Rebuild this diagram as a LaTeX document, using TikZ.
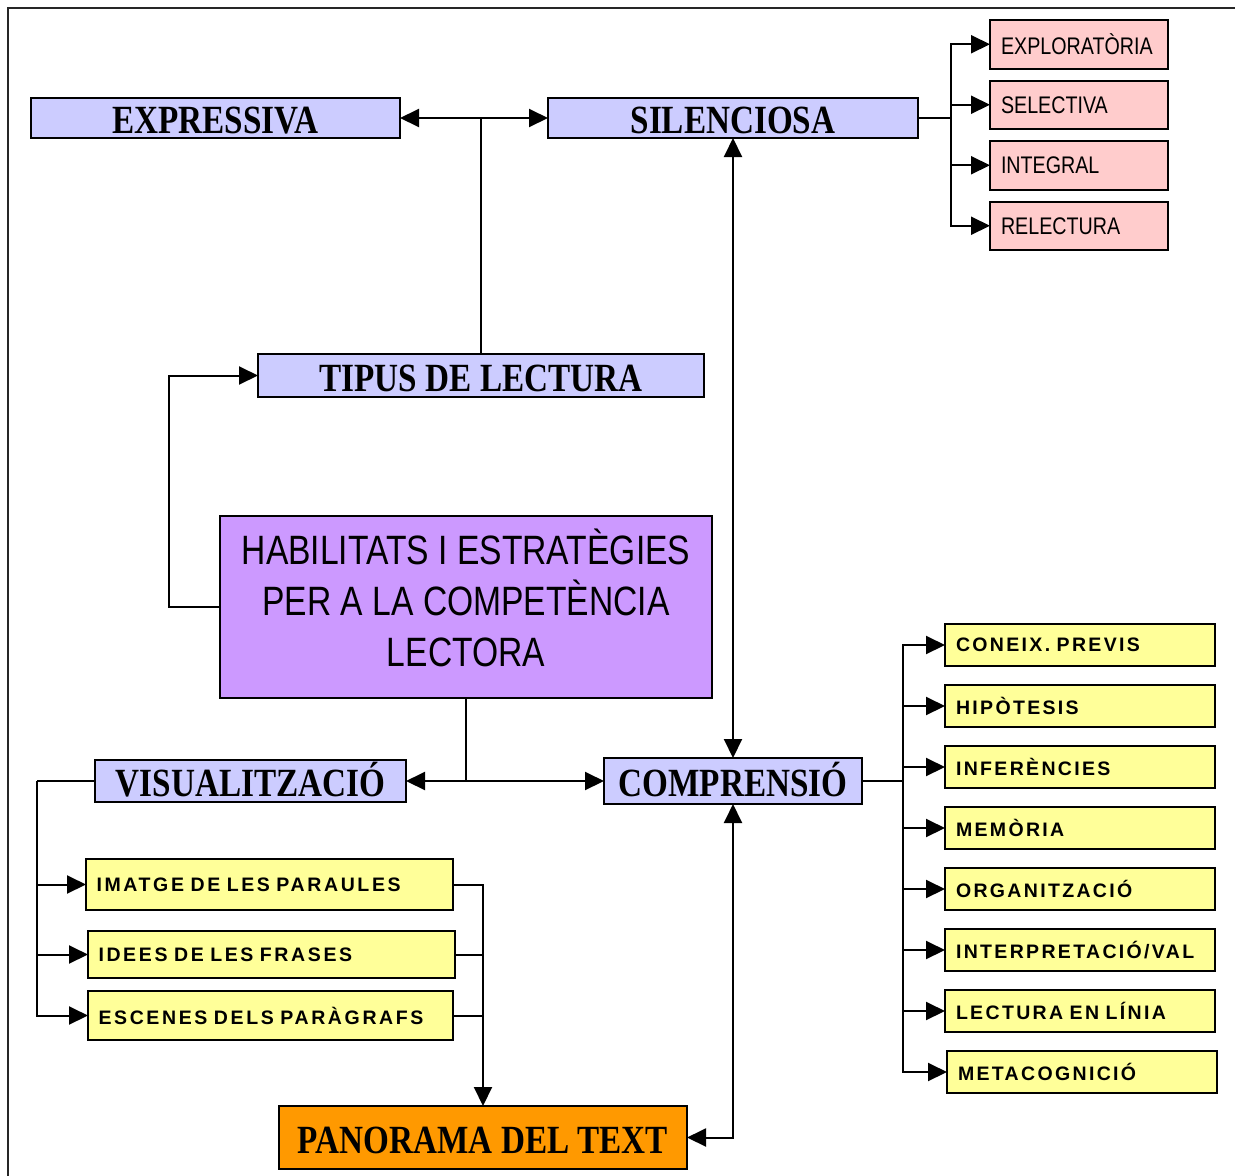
\documentclass[tikz,border=0pt]{standalone}
\usepackage{fontspec}
\usepackage{xcolor}
\usetikzlibrary{arrows.meta,positioning}
\newfontfamily\headfont[FakeStretch=0.83]{Liberation Serif}
\newfontfamily\narrowfont[FakeStretch=0.82]{Liberation Sans}
\newfontfamily\spacedfont[LetterSpace=12]{Liberation Sans}
\definecolor{bluefill}{HTML}{CCCCFF}
\definecolor{redfill}{HTML}{FFCCCC}
\definecolor{yelfill}{HTML}{FFFF99}
\definecolor{violfill}{HTML}{CC99FF}
\definecolor{orangefill}{HTML}{FF9900}

\begin{document}
\begin{tikzpicture}[x=1pt,y=-1pt,
  line width=2pt,
  node distance=12pt,
  head/.style={draw,fill=bluefill,anchor=north west,inner sep=0pt,outer sep=0pt,text height=31pt,text depth=0pt,font=\headfont\bfseries\fontsize{40}{44}\selectfont},
  redbox/.style={draw,fill=redfill,anchor=north west,inner xsep=11pt,inner ysep=0pt,outer sep=0pt,minimum height=48.5pt,text width=156pt,align=left,font=\narrowfont\fontsize{24}{26}\selectfont},
  yelbox/.style={draw,fill=yelfill,anchor=north west,inner xsep=11pt,inner ysep=0pt,outer sep=0pt,minimum height=42pt,text width=248pt,align=left,font=\spacedfont\bfseries\fontsize{19.5}{22}\selectfont},
  wideyel/.style={yelbox,inner xsep=10.5pt,font=\spacedfont\bfseries\fontsize{19.5}{22}\selectfont\addfontfeature{LetterSpace=13.5}},
  >={Triangle[length=19pt,width=18pt]}]
  \useasboundingbox (0,0) rectangle (1235,1176);
  \draw[line width=1.5pt,black!85] (8,1176) -- (8,8) -- (1235,8);
  % main boxes
  \node[head,minimum width=369pt,minimum height=40pt] (expr) at (31,98) {EXPRESSIVA};
  \node[head,minimum width=370pt,minimum height=40pt] (sil) at (548,98) {SILENCIOSA};
  \node[head,minimum width=446pt,minimum height=43pt] (tipus) at (258,354) {TIPUS DE LECTURA};
  \node[draw,fill=violfill,anchor=north west,inner sep=0pt,outer sep=0pt,minimum width=492pt,minimum height=182pt,
        label={[align=center,yshift=9pt,font=\narrowfont\fontsize{41}{51}\selectfont]center:HABILITATS I ESTRATÈGIES\\PER A LA COMPETÈNCIA\\LECTORA}]
        (hab) at (220,516) {};
  \node[head,minimum width=311pt,minimum height=42pt] (vis) at (95,760) {VISUALITZACIÓ};
  \node[head,minimum width=258pt,minimum height=46pt] (comp) at (604,758) {COMPRENSIÓ};
  \node[head,fill=orangefill,minimum width=408pt,minimum height=63pt] (pan) at (279,1106) {PANORAMA DEL TEXT};
  % silent reading kinds
  \node[redbox] (r1) at (990,20) {EXPLORATÒRIA};
  \node[redbox,below=of r1] (r2) {SELECTIVA};
  \node[redbox,below=of r2] (r3) {INTEGRAL};
  \node[redbox,below=of r3] (r4) {RELECTURA};
  % comprehension skills
  \node[yelbox] (c1) at (945,624) {CONEIX. PREVIS};
  \node[yelbox,below=19pt of c1] (c2) {HIPÒTESIS};
  \node[yelbox,below=19pt of c2] (c3) {INFERÈNCIES};
  \node[yelbox,below=19pt of c3] (c4) {MEMÒRIA};
  \node[yelbox,below=19pt of c4] (c5) {ORGANITZACIÓ};
  \node[yelbox,below=19pt of c5] (c6) {INTERPRETACIÓ/VAL};
  \node[yelbox,below=19pt of c6] (c7) {LECTURA EN LÍNIA};
  \node[yelbox,below=19pt of c7,xshift=2pt] (c8) {METACOGNICIÓ};
  % visualisation
  \node[wideyel,text width=346pt,minimum height=51pt] (img) at (86,859) {IMATGE DE LES PARAULES};
  \node[wideyel,text width=346pt,minimum height=47pt] (idees) at (88,931) {IDEES DE LES FRASES};
  \node[wideyel,text width=344pt,minimum height=49pt] (esc) at (88,991) {ESCENES DELS PARÀGRAFS};
  % connectors
  \draw[<->] (expr.east) -- (sil.west);
  \draw (tipus.north) -- (tipus.north |- expr.east);
  \draw[->] (hab.west) -- ++(-51,0) |- (tipus.west);
  \draw[<->] (sil.south) -- (comp.north);
  \draw (hab.south) -- (hab.south |- comp.west) coordinate (hj);
  \draw[->] (hj) -- (vis.east);
  \draw[->] (hj) -- (comp.west);
  \draw[<->] (comp.south) |- (pan.east);
  \draw (sil.east) -- ++(33,0) coordinate (sr);
  \draw[->] (sr) |- (r1.west); \draw[->] (sr) |- (r2.west);
  \draw[->] (sr) |- (r3.west); \draw[->] (sr) |- (r4.west);
  \draw (comp.east) -- ++(41,0) coordinate (cr);
  \draw[->] (cr) |- (c1.west); \draw[->] (cr) |- (c2.west);
  \draw[->] (cr) |- (c3.west); \draw[->] (cr) |- (c4.west);
  \draw[->] (cr) |- (c5.west); \draw[->] (cr) |- (c6.west);
  \draw[->] (cr) |- (c7.west); \draw[->] (cr) |- (c8.west);
  \draw (vis.west) -- ++(-58,0) coordinate (vl);
  \draw[->] (vl) |- (img.west); \draw[->] (vl) |- (idees.west);
  \draw[->] (vl) |- (esc.west);
  \draw[->] (img.east) -| (pan.north);
  \draw (idees.east) -- (idees.east -| pan.north);
  \draw (esc.east) -- (esc.east -| pan.north);
\end{tikzpicture}
\end{document}
